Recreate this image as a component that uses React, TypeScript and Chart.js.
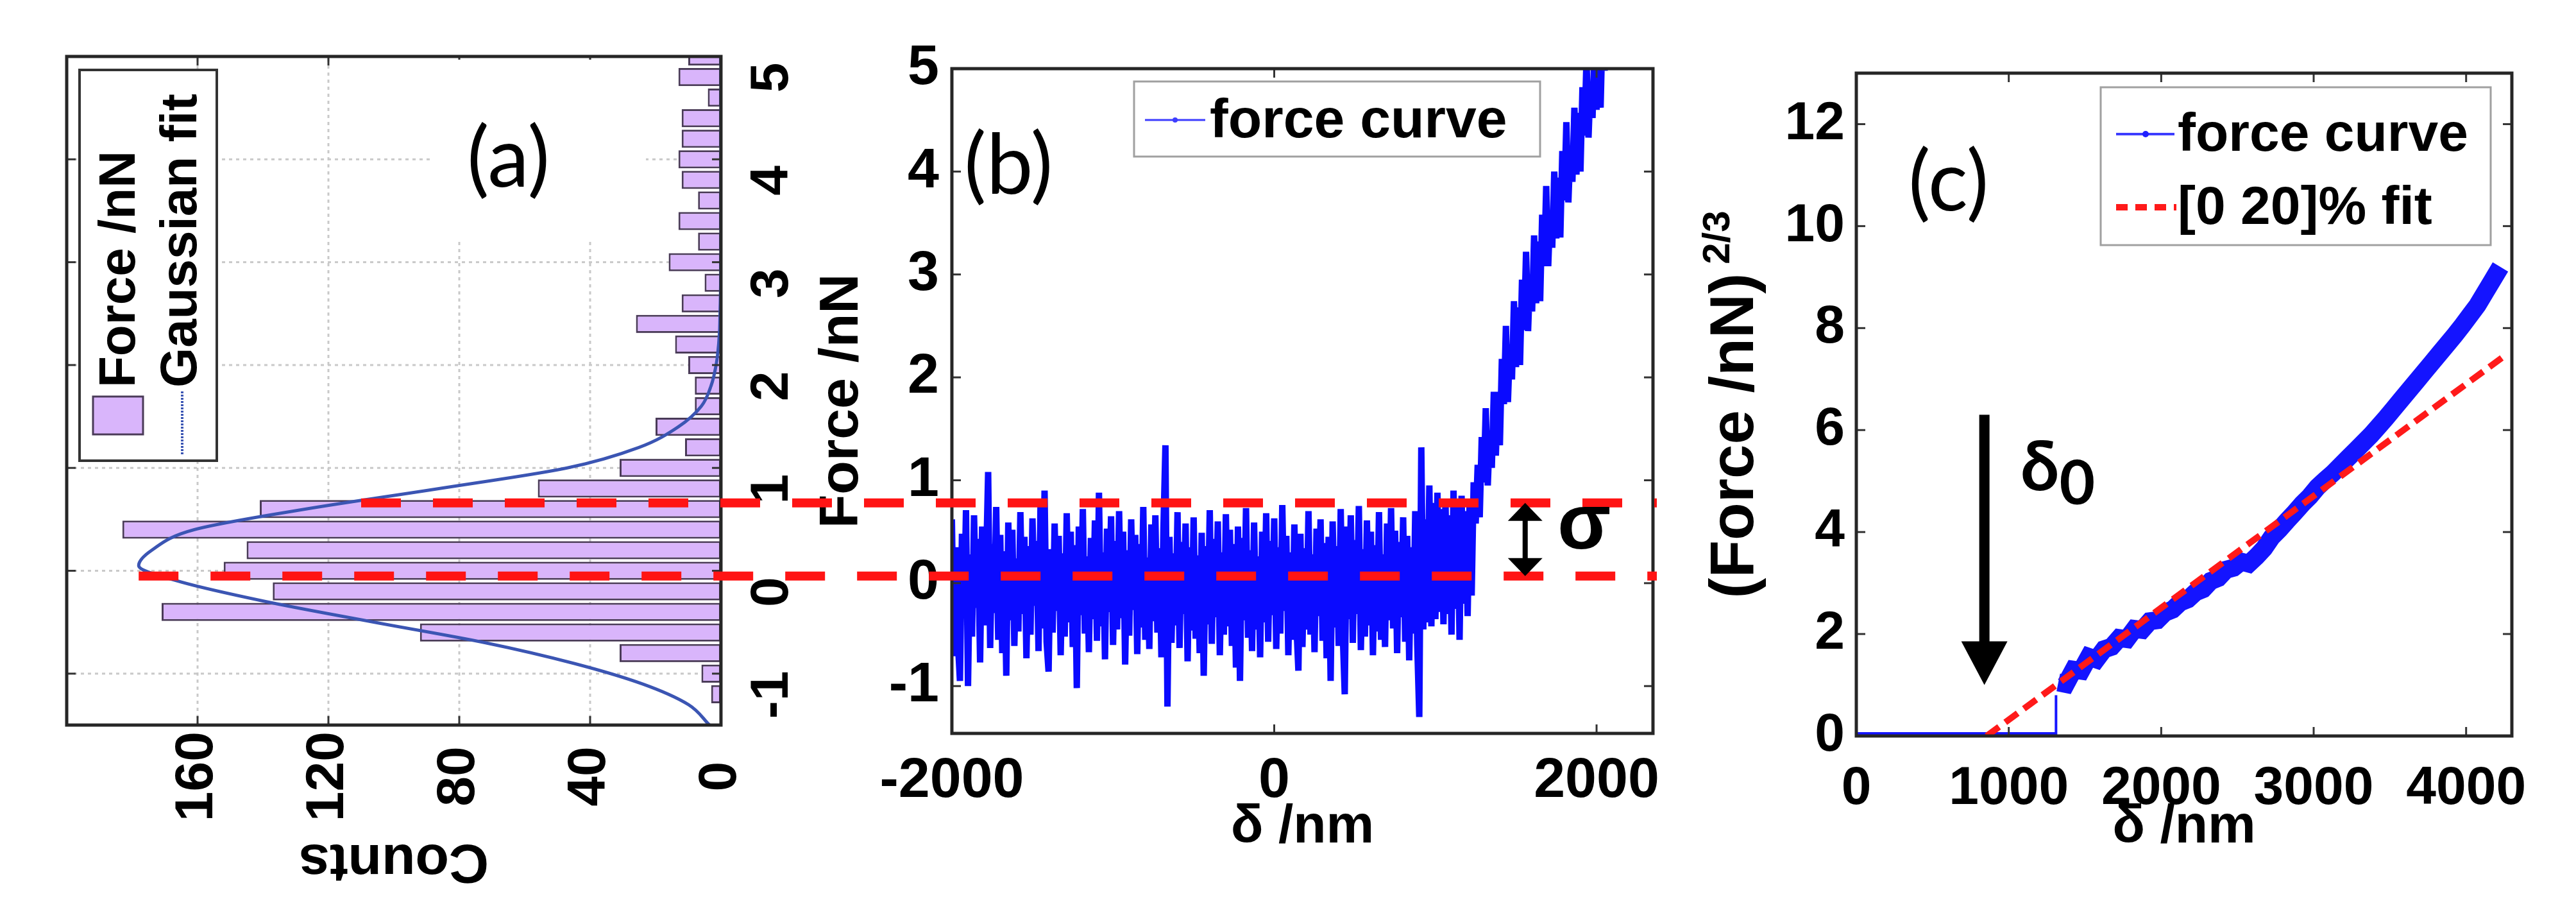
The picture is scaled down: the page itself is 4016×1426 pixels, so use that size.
import React, { useEffect, useRef } from 'react';
import { Chart, registerables } from 'chart.js';

Chart.register(...registerables);

const FONT = "'Liberation Sans', Arial, Helvetica, sans-serif";

// ---------- Panel (a): histogram of force (drawn unrotated, canvas rotated -90deg) ----------
const HIST_BINS = [-1.2, -1.0, -0.8, -0.6, -0.4, -0.2, 0.0, 0.2, 0.4, 0.6, 0.8, 1.0, 1.2, 1.4, 1.6, 1.8,
  2.0, 2.2, 2.4, 2.6, 2.8, 3.0, 3.2, 3.4, 3.6, 3.8, 4.0, 4.2, 4.4, 4.6, 4.8, 5.0];
const HIST_COUNTS = [3, 6, 31, 92, 171, 137, 152, 145, 183, 141, 56, 31, 11, 20, 8, 8,
  10, 14, 26, 12, 5, 16, 7, 13, 7, 12, 13, 12, 12, 4, 13, 10];
const GAUSS_FORCE = [-1.5, -1.3, -1.1, -0.9, -0.7, -0.5, -0.3, -0.1, 0.05, 0.2, 0.4, 0.6, 0.8, 1.0, 1.2,
  1.4, 1.6, 1.8, 2.0, 2.3, 2.6, 3.5, 5.0];
const GAUSS_COUNTS = [3.5, 10, 24, 45, 72, 106, 139, 166, 178, 174, 161, 127, 86, 47, 25,
  13, 6, 3, 1.5, 0.5, 0.2, 0, 0];
const FORCE_TICKS_A = [-1, 0, 1, 2, 3, 4, 5];
const COUNT_TICKS = [0, 40, 80, 120, 160];
const SIGMA_START_COUNTS = [178, 110]; // where the mean / mean+sigma dashed lines start (counts)

// ---------- Panel (b): force curve ----------
const FLAT_START = -2000;
const FLAT_STEP = 12.5;
const FLAT_FORCE = [
  0.62, -0.71, 0.35, -0.58, -0.95, 0.48, -0.33, 0.71, -1.0, 0.28,
  -0.52, 0.66, -0.24, 0.43, -0.77, 0.55, -0.41, 0.2, 1.08, -0.63,
  0.38, -0.29, 0.74, -0.55, 0.47, -0.68, 0.31, -0.9, 0.59, -0.36,
  0.52, -0.61, 0.24, -0.47, 0.69, -0.3, 0.45, -0.73, 0.36, -0.5,
  0.63, -0.22, 0.41, -0.66, 0.78, -0.44, 0.9, -0.57, -0.86, 0.33,
  -0.48, 0.58, -0.27, 0.46, -0.7, 0.29, -0.52, 0.68, -0.38, 0.5,
  -0.62, 0.37, -1.02, 0.55, -0.31, 0.72, -0.49, 0.26, -0.67, 0.44,
  -0.35, 0.61, -0.56, 0.88, -0.42, 0.3, -0.74, 0.53, -0.28, 0.65,
  -0.6, 0.41, -0.45, 0.7, -0.34, 0.5, -0.79, 0.32, -0.51, 0.62,
  -0.26, 0.47, -0.69, 0.38, -0.43, 0.74, -0.55, 0.25, -0.64, 0.57,
  -0.37, 0.66, -0.48, 0.34, -0.72, 0.52, 1.34, -1.2, 0.45, -0.58,
  0.29, -0.41, 0.69, -0.63, 0.4, -0.3, 0.58, -0.76, 0.35, -0.46,
  0.64, -0.54, 0.27, -0.68, 0.49, -0.9, 0.36, -0.4, 0.71, -0.59,
  0.43, -0.33, 0.6, -0.7, 0.3, -0.5, 0.67, -0.42, 0.52, -0.61,
  0.38, -0.82, 0.55, -0.95, 0.44, -0.36, 0.73, -0.53, 0.32, -0.66,
  0.59, -0.45, 0.26, -0.72, 0.5, -0.38, 0.68, -0.57, 0.41, -0.31,
  0.63, -0.64, 0.35, -0.49, 0.76, -0.27, 0.46, -0.7, 0.3, -0.55,
  0.57, -0.4, -0.85, 0.48, -0.62, 0.34, -0.45, 0.7, -0.5, 0.28,
  -0.67, 0.53, -0.32, 0.62, -0.56, 0.39, -0.73, 0.45, -0.95, 0.6,
  -0.43, 0.36, -0.61, 0.72, -0.48, -1.08, 0.55, -0.35, 0.66, -0.58,
  0.42, -0.3, 0.75, -0.65, 0.33, -0.52, 0.61, -0.41, 0.5, -0.7,
  0.37, -0.47, 0.69, -0.55, 0.28, -0.62, 0.58, -0.36, 0.73, -0.44,
  0.51, -0.68, 0.4, -0.33, 0.64, -0.57, 0.46, -0.75, 0.35, -0.49,
  0.7, -0.6, -1.3, 1.32, -0.45, 0.62, -0.38, 0.95, -0.42, 0.78,
  -0.35, 0.88, -0.28, 0.72, -0.4, 0.81, -0.3, 0.66, -0.5, 0.9,
  -0.25, 0.75, -0.55, 0.85, -0.2, 0.7, -0.32, 0.8, -0.12,
];
const RISE_START = 1237.5;
const RISE_STEP = 12.5;
const RISE_FORCE = [
  0.98, 0.58, 1.15, 0.64, 1.42, 0.98, 1.7, 0.95, 1.48, 1.12,
  1.86, 1.24, 1.86, 1.34, 2.18, 1.74, 2.5, 1.76, 2.32, 1.98,
  2.74, 2.1, 2.68, 2.12, 2.95, 2.46, 3.22, 2.45, 3.0, 2.64,
  3.38, 2.72, 3.32, 2.74, 3.58, 3.08, 3.86, 3.08, 3.62, 3.26,
  4.0, 3.35, 3.94, 3.36, 4.2, 3.72, 4.48, 3.7, 4.25, 3.9,
  4.62, 3.97, 4.57, 4.0, 4.82, 4.35, 5.1, 4.33, 4.87, 4.52,
  5.25, 4.6, 5.19, 4.62, 5.45, 4.98, 5.7,
];
const X_TICKS_B = [-2000, 0, 2000];
const Y_TICKS_B = [-1, 0, 1, 2, 3, 4, 5];
const SIGMA_LEVELS_B = [0.07, 0.78];
const SIGMA_ARROW_X = 1557;

// ---------- Panel (c): (Force)^(2/3) vs indentation ----------
const ZERO_X = [0, 1310];
const ZERO_Y = [0, 0];
const JUMP_X = [1310, 1310];
const JUMP_Y = [0, 0.8];
const CURVE_START = 1325;
const CURVE_STEP = 50;
const CURVE_C = [
  1.05, 1.02, 1.3, 1.28, 1.55, 1.5, 1.7, 1.75, 1.92, 1.9,
  2.1, 2.08, 2.25, 2.27, 2.42, 2.48, 2.62, 2.68, 2.82, 2.88,
  3.04, 3.1, 3.26, 3.3, 3.42, 3.38, 3.52, 3.68, 3.9, 4.05,
  4.22, 4.38, 4.55, 4.7, 4.88, 5.02, 5.15, 5.3, 5.45, 5.6,
  5.75, 5.9, 6.07, 6.24, 6.42, 6.6, 6.78, 6.96, 7.14, 7.32,
  7.5, 7.68, 7.86, 8.05, 8.25, 8.45, 8.7, 8.95, 9.2,
];
const FIT_X = [855, 4250];
const FIT_Y = [0, 7.45];
const X_TICKS_C = [0, 1000, 2000, 3000, 4000];
const Y_TICKS_C = [0, 2, 4, 6, 8, 10, 12];
const DELTA0_X = 840;
const DELTA0_Y_FROM = 6.3;
const DELTA0_Y_TO = 1.0;

// ---------- layout ----------
const A_LEFT = 60;
const A_TOP = 40;
const A_W = 1230; // rotated width
const A_H = 1380; // rotated height
const C_LEFT = 2620;

const tickFont = (size: number) => ({ family: FONT, size, weight: 'bold' as const });

function setTicks(list: number[]) {
  return (scale: any) => {
    scale.ticks = list.map((v) => ({ value: v }));
  };
}

function fitY(width: number) {
  return (s: any) => {
    s.width = width;
    s.paddingTop = 0;
    s.paddingBottom = 0;
  };
}

function fitX(height: number) {
  return (s: any) => {
    s.height = height;
    s.paddingLeft = 0;
    s.paddingRight = 0;
  };
}

function line(ctx: CanvasRenderingContext2D, x0: number, y0: number, x1: number, y1: number) {
  ctx.beginPath();
  ctx.moveTo(x0, y0);
  ctx.lineTo(x1, y1);
  ctx.stroke();
}

function framePlugin(id: string, drawGrid: boolean, tickLen: number) {
  return {
    id,
    beforeDatasetsDraw(chart: any) {
      if (!drawGrid) return;
      const { ctx, chartArea: a, scales } = chart;
      ctx.save();
      ctx.strokeStyle = '#c9c9c9';
      ctx.lineWidth = 3;
      ctx.setLineDash([5, 6]);
      scales.x.ticks.forEach((t: any) => {
        const px = scales.x.getPixelForValue(t.value);
        if (px <= a.left + 3 || px >= a.right - 3) return;
        line(ctx, px, a.top, px, a.bottom);
      });
      scales.y.ticks.forEach((t: any) => {
        const py = scales.y.getPixelForValue(t.value);
        if (py <= a.top + 3 || py >= a.bottom - 3) return;
        line(ctx, a.left, py, a.right, py);
      });
      ctx.restore();
    },
    afterDatasetsDraw(chart: any) {
      const { ctx, chartArea: a, scales } = chart;
      ctx.save();
      ctx.strokeStyle = '#333';
      ctx.lineWidth = 3;
      scales.x.ticks.forEach((t: any) => {
        const px = scales.x.getPixelForValue(t.value);
        line(ctx, px, a.bottom, px, a.bottom - tickLen);
        line(ctx, px, a.top, px, a.top + tickLen);
      });
      scales.y.ticks.forEach((t: any) => {
        const py = scales.y.getPixelForValue(t.value);
        line(ctx, a.left, py, a.left + tickLen, py);
        line(ctx, a.right, py, a.right - tickLen, py);
      });
      ctx.lineWidth = 5;
      ctx.strokeStyle = '#262626';
      ctx.strokeRect(a.left, a.top, a.right - a.left, a.bottom - a.top);
      ctx.restore();
    },
  };
}

const HIST_FILL = '#d9b5fb';
const HIST_EDGE = '#4a3b58';
const GAUSS_COLOR = '#3b55b3';

const legendA = {
  id: 'legendA',
  afterDraw(chart: any) {
    const { ctx, chartArea: a } = chart;
    const bw = 609, bh = 214;
    const bx = a.right - 21 - bw, by = a.top + 20;
    ctx.save();
    ctx.fillStyle = '#fff';
    ctx.fillRect(bx, by, bw, bh);
    ctx.strokeStyle = '#333';
    ctx.lineWidth = 4;
    ctx.strokeRect(bx, by, bw, bh);
    ctx.fillStyle = HIST_FILL;
    ctx.fillRect(bx + 41, by + 21, 59, 78);
    ctx.strokeStyle = HIST_EDGE;
    ctx.lineWidth = 3;
    ctx.strokeRect(bx + 41, by + 21, 59, 78);
    ctx.strokeStyle = GAUSS_COLOR;
    ctx.lineWidth = 4;
    ctx.setLineDash([3, 2]);
    line(ctx, bx + 10, by + 160, bx + 108, by + 160);
    ctx.setLineDash([]);
    ctx.fillStyle = '#000';
    ctx.font = `bold 80px ${FONT}`;
    ctx.textBaseline = 'middle';
    ctx.fillText('Force /nN', bx + 114, by + 64);
    ctx.fillText('Gaussian fit', bx + 114, by + 160);
    ctx.restore();
  },
};

const legendB = {
  id: 'legendB',
  afterDraw(chart: any) {
    const { ctx, chartArea: a } = chart;
    const bx = a.left + 284, by = a.top + 20, bw = 633, bh = 117;
    ctx.save();
    ctx.fillStyle = '#fff';
    ctx.fillRect(bx, by, bw, bh);
    ctx.strokeStyle = '#a0a0a0';
    ctx.lineWidth = 3;
    ctx.strokeRect(bx, by, bw, bh);
    const cy = by + 60;
    ctx.strokeStyle = '#3d3dff';
    ctx.lineWidth = 3;
    line(ctx, bx + 17, cy, bx + 111, cy);
    ctx.fillStyle = '#3d3dff';
    ctx.beginPath();
    ctx.arc(bx + 64, cy, 4, 0, Math.PI * 2);
    ctx.fill();
    ctx.fillStyle = '#000';
    ctx.font = `bold 86px ${FONT}`;
    ctx.textBaseline = 'middle';
    ctx.fillText('force curve', bx + 118, cy + 3);
    ctx.restore();
  },
};

const legendC = {
  id: 'legendC',
  afterDraw(chart: any) {
    const { ctx, chartArea: a } = chart;
    const bx = a.left + 381, by = a.top + 22, bw = 608, bh = 246;
    ctx.save();
    ctx.fillStyle = '#fff';
    ctx.fillRect(bx, by, bw, bh);
    ctx.strokeStyle = '#a0a0a0';
    ctx.lineWidth = 3;
    ctx.strokeRect(bx, by, bw, bh);
    const r1 = by + 73, r2 = by + 187;
    ctx.strokeStyle = '#3d3dff';
    ctx.lineWidth = 4;
    line(ctx, bx + 24, r1, bx + 115, r1);
    ctx.fillStyle = '#2020ff';
    ctx.beginPath();
    ctx.arc(bx + 70, r1, 5, 0, Math.PI * 2);
    ctx.fill();
    ctx.strokeStyle = '#ff1a1a';
    ctx.lineWidth = 10;
    ctx.setLineDash([18, 12]);
    line(ctx, bx + 24, r2, bx + 118, r2);
    ctx.setLineDash([]);
    ctx.fillStyle = '#000';
    ctx.font = `bold 84px ${FONT}`;
    ctx.textBaseline = 'middle';
    ctx.fillText('force curve', bx + 120, r1 + 3);
    ctx.fillText('[0 20]% fit', bx + 120, r2 + 3);
    ctx.restore();
  },
};

function sigmaPluginB(getA: () => any) {
  return {
    id: 'sigmaB',
    afterDatasetsDraw(chart: any) {
      const chartA = getA();
      if (!chartA) return;
      const { ctx, scales } = chart;
      const ya = chartA.scales.y;
      const xEnd = scales.x.getPixelForValue(scales.x.max) + 6;
      ctx.save();
      ctx.strokeStyle = '#ff1414';
      ctx.lineWidth = 14;
      ctx.setLineDash([62, 50]);
      SIGMA_LEVELS_B.forEach((lvl, i) => {
        const py = scales.y.getPixelForValue(lvl);
        const px0 = A_LEFT + ya.getPixelForValue(SIGMA_START_COUNTS[i]);
        line(ctx, px0, py, xEnd, py);
      });
      ctx.setLineDash([]);
      const ax = scales.x.getPixelForValue(SIGMA_ARROW_X);
      const yLow = scales.y.getPixelForValue(SIGMA_LEVELS_B[0]);
      const yHigh = scales.y.getPixelForValue(SIGMA_LEVELS_B[1]);
      const hl = 26, hw = 27;
      ctx.strokeStyle = '#000';
      ctx.fillStyle = '#000';
      ctx.lineWidth = 8;
      line(ctx, ax, yHigh + hl, ax, yLow - hl);
      ctx.beginPath();
      ctx.moveTo(ax, yHigh);
      ctx.lineTo(ax - hw, yHigh + hl + 2);
      ctx.lineTo(ax + hw, yHigh + hl + 2);
      ctx.closePath();
      ctx.fill();
      ctx.beginPath();
      ctx.moveTo(ax, yLow);
      ctx.lineTo(ax - hw, yLow - hl - 2);
      ctx.lineTo(ax + hw, yLow - hl - 2);
      ctx.closePath();
      ctx.fill();
      ctx.restore();
    },
  };
}

const arrowC = {
  id: 'arrowC',
  afterDatasetsDraw(chart: any) {
    const { ctx, scales } = chart;
    const ax = scales.x.getPixelForValue(DELTA0_X);
    const y0 = scales.y.getPixelForValue(DELTA0_Y_FROM);
    const y1 = scales.y.getPixelForValue(DELTA0_Y_TO);
    const hl = 68, hw = 36;
    ctx.save();
    ctx.fillStyle = '#000';
    ctx.fillRect(ax - 8, y0, 16, y1 - hl - y0 + 2);
    ctx.beginPath();
    ctx.moveTo(ax, y1);
    ctx.lineTo(ax - hw, y1 - hl);
    ctx.lineTo(ax + hw, y1 - hl);
    ctx.closePath();
    ctx.fill();
    ctx.restore();
  },
};

const yTitleC = {
  id: 'yTitleC',
  afterDraw(chart: any) {
    const { ctx, chartArea: a } = chart;
    const cx = 87;
    const cy = (a.top + a.bottom) / 2;
    ctx.save();
    ctx.translate(cx, cy);
    ctx.rotate(-Math.PI / 2);
    ctx.fillStyle = '#000';
    ctx.textBaseline = 'middle';
    ctx.font = `bold 96px ${FONT}`;
    const main = '(Force /nN)';
    const wMain = ctx.measureText(main).width;
    ctx.font = `bold 60px ${FONT}`;
    const sup = '2/3';
    const wSup = ctx.measureText(sup).width;
    const total = wMain + 14 + wSup;
    ctx.font = `bold 96px ${FONT}`;
    ctx.fillText(main, -total / 2, 0);
    ctx.font = `bold 60px ${FONT}`;
    ctx.fillText(sup, -total / 2 + wMain + 14, -28);
    ctx.restore();
  },
};

export default function App() {
  const refA = useRef<HTMLCanvasElement>(null);
  const refB = useRef<HTMLCanvasElement>(null);
  const refC = useRef<HTMLCanvasElement>(null);

  useEffect(() => {
    const chartA = new Chart(refA.current as HTMLCanvasElement, {
      type: 'bar',
      data: {
        datasets: [
          {
            type: 'line',
            label: 'Gaussian fit',
            data: GAUSS_FORCE.map((f, i) => ({ x: f, y: GAUSS_COUNTS[i] })),
            borderColor: GAUSS_COLOR,
            borderWidth: 5,
            pointRadius: 0,
            cubicInterpolationMode: 'monotone',
            order: 0,
          } as any,
          {
            type: 'bar',
            label: 'Force /nN',
            data: HIST_BINS.map((b, i) => ({ x: b, y: HIST_COUNTS[i] })),
            backgroundColor: HIST_FILL,
            borderColor: HIST_EDGE,
            borderWidth: 3,
            borderSkipped: false,
            barPercentage: 0.88,
            categoryPercentage: 1,
            order: 1,
          } as any,
        ],
      },
      options: {
        animation: false,
        responsive: false,
        devicePixelRatio: 1,
        layout: { padding: { top: 44, right: 48, left: 0, bottom: 0 } },
        plugins: { legend: { display: false }, tooltip: { enabled: false } },
        scales: {
          x: {
            type: 'linear',
            min: -1.5,
            max: 5,
            offset: false,
            afterBuildTicks: setTicks(FORCE_TICKS_A),
            afterFit: fitX(166),
            grid: { display: false },
            border: { display: false },
            ticks: {
              font: tickFont(84), color: '#000', padding: 22, labelOffset: -33,
              maxRotation: 0, minRotation: 0, autoSkip: false,
              callback: (v: any) => String(v),
            },
          },
          y: {
            type: 'linear',
            min: 0,
            max: 200,
            afterBuildTicks: setTicks(COUNT_TICKS),
            afterFit: fitY(290),
            grid: { display: false },
            border: { display: false },
            title: { display: true, text: 'Counts', color: '#000', font: tickFont(86), padding: { top: 28, bottom: 0 } },
            ticks: { font: tickFont(84), color: '#000', padding: 2, crossAlign: 'center', callback: (v: any) => String(v) },
          },
        },
      } as any,
      plugins: [framePlugin('frameA', true, 14), legendA],
    });

    const traceB = [
      ...FLAT_FORCE.map((f, i) => ({ x: FLAT_START + i * FLAT_STEP, y: f })),
      ...RISE_FORCE.map((f, i) => ({ x: RISE_START + i * RISE_STEP, y: f })),
    ];

    const chartB = new Chart(refB.current as HTMLCanvasElement, {
      type: 'line',
      data: {
        datasets: [
          {
            label: 'force curve',
            data: traceB,
            borderColor: '#0a0aff',
            borderWidth: 10,
            borderJoinStyle: 'miter',
            pointRadius: 0,
            tension: 0,
          },
        ],
      },
      options: {
        animation: false,
        responsive: false,
        devicePixelRatio: 1,
        layout: { padding: { top: 107, right: 73, left: 1250, bottom: 0 } },
        plugins: { legend: { display: false }, tooltip: { enabled: false } },
        scales: {
          x: {
            type: 'linear',
            min: -2000,
            max: 2350,
            afterBuildTicks: setTicks(X_TICKS_B),
            afterFit: fitX(283),
            grid: { display: false },
            border: { display: false },
            title: { display: true, text: 'δ /nm', color: '#000', font: tickFont(84), padding: { top: 0, bottom: 86 } },
            ticks: { font: tickFont(88), color: '#000', padding: 14, maxRotation: 0, autoSkip: false, callback: (v: any) => String(v) },
          },
          y: {
            type: 'linear',
            min: -1.46,
            max: 5,
            afterBuildTicks: setTicks(Y_TICKS_B),
            afterFit: fitY(234),
            grid: { display: false },
            border: { display: false },
            title: { display: true, text: 'Force /nN', color: '#000', font: tickFont(86), padding: { top: 12, bottom: 0 } },
            ticks: { font: tickFont(88), color: '#000', padding: 12, callback: (v: any) => String(v) },
          },
        },
      } as any,
      plugins: [framePlugin('frameB', false, 14), legendB, sigmaPluginB(() => chartA)],
    });

    const chartC = new Chart(refC.current as HTMLCanvasElement, {
      type: 'line',
      data: {
        datasets: [
          {
            label: '[0 20]% fit',
            data: FIT_X.map((x, i) => ({ x, y: FIT_Y[i] })),
            borderColor: '#ff1a1a',
            borderWidth: 10,
            borderDash: [24, 12],
            pointRadius: 0,
            order: 0,
          },
          {
            label: 'force curve',
            data: CURVE_C.map((v, i) => ({ x: CURVE_START + i * CURVE_STEP, y: v })),
            borderColor: '#1414ff',
            borderWidth: 28,
            pointRadius: 0,
            tension: 0,
            order: 1,
          },
          {
            label: 'jump',
            data: JUMP_X.map((x, i) => ({ x, y: JUMP_Y[i] })),
            borderColor: '#1414ff',
            borderWidth: 4,
            pointRadius: 0,
            order: 2,
          },
          {
            label: 'zero',
            data: ZERO_X.map((x, i) => ({ x, y: ZERO_Y[i] })),
            borderColor: '#1414ff',
            borderWidth: 12,
            pointRadius: 0,
            order: 3,
          },
        ],
      },
      options: {
        animation: false,
        responsive: false,
        devicePixelRatio: 1,
        layout: { padding: { top: 114, right: 100, left: 0, bottom: 0 } },
        plugins: { legend: { display: false }, tooltip: { enabled: false } },
        scales: {
          x: {
            type: 'linear',
            min: 0,
            max: 4300,
            afterBuildTicks: setTicks(X_TICKS_C),
            afterFit: fitX(279),
            grid: { display: false },
            border: { display: false },
            title: { display: true, text: 'δ /nm', color: '#000', font: tickFont(84), padding: { top: 0, bottom: 86 } },
            ticks: { font: tickFont(84), color: '#000', padding: 24, maxRotation: 0, autoSkip: false, callback: (v: any) => String(v) },
          },
          y: {
            type: 'linear',
            min: 0,
            max: 13,
            afterBuildTicks: setTicks(Y_TICKS_C),
            afterFit: fitY(274),
            grid: { display: false },
            border: { display: false },
            ticks: { font: tickFont(84), color: '#000', padding: 10, callback: (v: any) => String(v) },
          },
        },
      } as any,
      plugins: [framePlugin('frameC', false, 14), legendC, arrowC, yTitleC],
    });

    return () => {
      chartA.destroy();
      chartB.destroy();
      chartC.destroy();
    };
  }, []);

  const labelStyle: React.CSSProperties = {
    position: 'absolute',
    fontFamily: "Lato, 'Open Sans', sans-serif",
    fontSize: 130,
    lineHeight: '130px',
    color: '#000',
    whiteSpace: 'nowrap',
  };

  return (
    <div style={{ position: 'fixed', left: 0, top: 0, width: 4016, height: 1426, background: '#fff', overflow: 'hidden' }}>
      <div style={{ position: 'absolute', left: A_LEFT, top: A_TOP, width: A_W, height: A_H }}>
        <canvas
          ref={refA}
          width={A_H}
          height={A_W}
          style={{
            position: 'absolute', left: 0, top: 0, width: A_H, height: A_W,
            transformOrigin: '0 0', transform: `translateY(${A_H}px) rotate(-90deg)`,
          }}
        />
      </div>
      <canvas ref={refB} width={2650} height={1426} style={{ position: 'absolute', left: 0, top: 0, width: 2650, height: 1426 }} />
      <canvas ref={refC} width={1396} height={1426} style={{ position: 'absolute', left: C_LEFT, top: 0, width: 1396, height: 1426 }} />
      <div style={{ position: 'absolute', left: 672, top: 93, width: 335, height: 280, background: '#fff' }} />
      <div style={{ ...labelStyle, left: 728, top: 176 }}>(a)</div>
      <div style={{ ...labelStyle, left: 1503, top: 186 }}>(b)</div>
      <div style={{ ...labelStyle, left: 2975, top: 213 }}>(c)</div>
      <div style={{ position: 'absolute', left: 2428, top: 752, fontFamily: FONT, fontWeight: 'bold', fontSize: 122, lineHeight: '122px', color: '#000' }}>σ</div>
      <div style={{ position: 'absolute', left: 3150, top: 668, fontFamily: "Lato, 'Open Sans', sans-serif", fontWeight: 'bold', fontSize: 108, lineHeight: '108px', color: '#000', whiteSpace: 'nowrap' }}>
        δ<span style={{ fontSize: 96, position: 'relative', top: 22 }}>0</span>
      </div>
    </div>
  );
}
